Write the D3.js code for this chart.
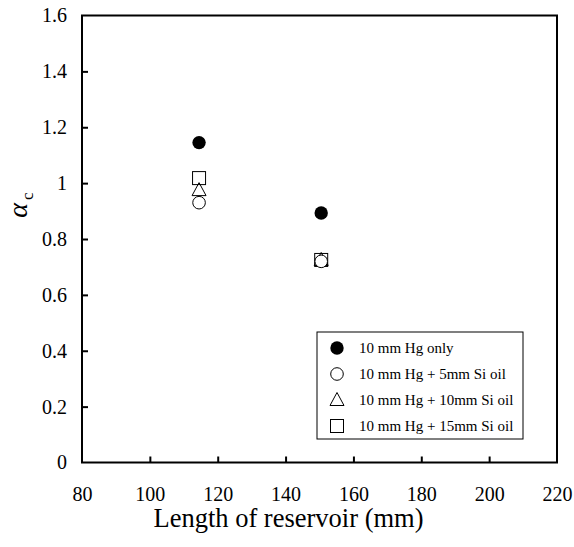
<!DOCTYPE html>
<html>
<head>
<meta charset="utf-8">
<script src="https://cdn.jsdelivr.net/npm/d3@7"></script>
<style>
  body { margin: 0; background: #fff; }
  text { font-family: "Liberation Serif", "DejaVu Serif", serif; fill: #000; }
</style>
</head>
<body>
<div id="chart"></div>
<script>
var svgWidth = 574;
var svgHeight = 547;

var margin = { top: 15.5, right: 17, left: 82, bottom: 84.5 };
var width = svgWidth - margin.left - margin.right;
var height = svgHeight - margin.top - margin.bottom;

// data
var seriesNames = ["10 mm Hg only", "10 mm Hg + 5mm Si oil", "10 mm Hg + 10mm Si oil", "10 mm Hg + 15mm Si oil"];
var seriesShapes = ["filled", "circle", "triangle", "square"];
var lengths = [114.5, 150.5];
var hgOnly = [1.145, 0.893];
var si5 = [0.93, 0.72];
var si10 = [0.975, 0.725];
var si15 = [1.018, 0.725];
var xTicks = [80, 100, 120, 140, 160, 180, 200, 220];
var yTicks = [0, 0.2, 0.4, 0.6, 0.8, 1, 1.2, 1.4, 1.6];

var seriesValues = [hgOnly, si5, si10, si15];

var svg = d3.select("#chart")
  .append("svg")
  .attr("width", svgWidth)
  .attr("height", svgHeight);

var chart = svg.append("g")
  .attr("transform", `translate(${margin.left}, ${margin.top})`);

var xScale = d3.scaleLinear().domain([80, 220]).range([0, width]);
var yScale = d3.scaleLinear().domain([0, 1.6]).range([height, 0]);

// frame
chart.append("rect")
  .attr("width", width)
  .attr("height", height)
  .attr("fill", "none")
  .attr("stroke", "#000")
  .attr("stroke-width", 2);

var bottomAxis = d3.axisBottom(xScale)
  .tickValues(xTicks)
  .tickSize(-6)
  .tickPadding(24)
  .tickFormat(d3.format("d"));

var leftAxis = d3.axisLeft(yScale)
  .tickValues(yTicks)
  .tickSize(-6)
  .tickPadding(15)
  .tickFormat(d => d === 0 || d === 1 ? String(d) : d.toFixed(1));

var gx = chart.append("g")
  .attr("transform", `translate(0, ${height})`)
  .call(bottomAxis);
var gy = chart.append("g").call(leftAxis);

[gx, gy].forEach(function(g) {
  g.attr("font-family", null).attr("font-size", null);
  g.select(".domain").remove();
  g.selectAll(".tick line").attr("stroke", "#000").attr("stroke-width", 2);
  g.selectAll(".tick text")
    .style("font-family", "'Liberation Serif', serif")
    .style("font-size", "20px")
    .attr("fill", "#000");
});
gx.selectAll(".tick").filter(d => d === 80 || d === 220).select("line").remove();
gy.selectAll(".tick").filter(d => d === 0 || d === 1.6).select("line").remove();

// axis titles
chart.append("text")
  .attr("x", (xScale(80) + xScale(220)) / 2 - 31)
  .attr("y", height + 64)
  .attr("text-anchor", "middle")
  .style("font-size", "26.5px")
  .text("Length of reservoir (mm)");

var yTitle = svg.append("text")
  .attr("transform", "translate(27, 205) rotate(-90)")
  .attr("text-anchor", "middle");
yTitle.append("tspan")
  .style("font-size", "28px")
  .style("font-style", "italic")
  .text("\u03b1");
yTitle.append("tspan")
  .style("font-size", "17px")
  .attr("dx", "3")
  .attr("dy", "6")
  .text("c");

// markers
function drawMarker(g, shape, x, y) {
  if (shape === "filled") {
    g.append("circle").attr("cx", x).attr("cy", y).attr("r", 6.7).attr("fill", "#000");
  } else if (shape === "circle") {
    g.append("circle").attr("cx", x).attr("cy", y).attr("r", 6.3)
      .attr("fill", "#fff").attr("stroke", "#000").attr("stroke-width", 1);
  } else if (shape === "triangle") {
    g.append("path")
      .attr("d", `M${x},${y - 7.5}L${x + 7},${y + 5.5}L${x - 7},${y + 5.5}Z`)
      .attr("fill", "none").attr("stroke", "#000").attr("stroke-width", 1);
  } else {
    g.append("rect").attr("x", x - 6.5).attr("y", y - 6.5)
      .attr("width", 13).attr("height", 13)
      .attr("fill", "none").attr("stroke", "#000").attr("stroke-width", 1);
  }
}

var points = chart.append("g");
// open markers first so the filled series sits on top
[3, 2, 1, 0].forEach(function(i) {
  seriesValues[i].forEach(function(v, j) {
    drawMarker(points, seriesShapes[i], xScale(lengths[j]), yScale(v));
  });
});

// legend
var legend = svg.append("g").attr("transform", "translate(317, 332)");
legend.append("rect")
  .attr("width", 206)
  .attr("height", 107)
  .attr("fill", "#fff")
  .attr("stroke", "#000")
  .attr("stroke-width", 1);

seriesNames.forEach(function(name, i) {
  var cy = 16 + i * 26;
  drawMarker(legend, seriesShapes[i], 20, cy);
  legend.append("text")
    .attr("x", 42)
    .attr("y", cy + 5)
    .style("font-size", "15px")
    .text(name);
});
</script>
</body>
</html>
